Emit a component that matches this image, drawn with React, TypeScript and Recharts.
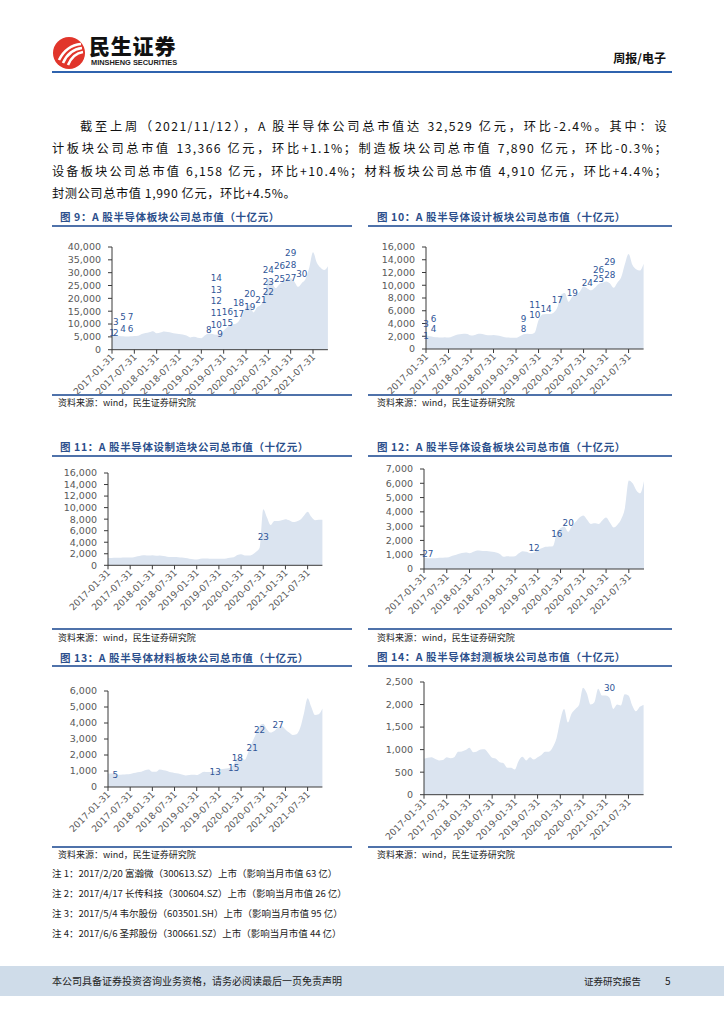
import React from 'react';
import { AreaChart, Area, XAxis, YAxis, ReferenceDot } from 'recharts';

const dates = [
  '2017-01-31','2017-02-28','2017-03-31','2017-04-30','2017-05-31','2017-06-30',
  '2017-07-31','2017-08-31','2017-09-30','2017-10-31','2017-11-30','2017-12-31',
  '2018-01-31','2018-02-28','2018-03-31','2018-04-30','2018-05-31','2018-06-30',
  '2018-07-31','2018-08-31','2018-09-30','2018-10-31','2018-11-30','2018-12-31',
  '2019-01-31','2019-02-28','2019-03-31','2019-04-30','2019-05-31','2019-06-30',
  '2019-07-31','2019-08-31','2019-09-30','2019-10-31','2019-11-30','2019-12-31',
  '2020-01-31','2020-02-29','2020-03-31','2020-04-30','2020-05-31','2020-06-30',
  '2020-07-31','2020-08-31','2020-09-30','2020-10-31','2020-11-30','2020-12-31',
  '2021-01-31','2021-02-28','2021-03-31','2021-04-30','2021-05-31','2021-06-30',
  '2021-07-31','2021-08-31','2021-09-30','2021-10-31','2021-11-12',
];

const totalCap = [
  5500, 5400, 5300, 5200, 5100, 5200, 5300, 5400, 6100, 6500, 6800, 7200,
  6400, 6700, 7100, 6900, 6600, 6300, 6100, 5900, 5500, 4800, 5000, 4700,
  4500, 5600, 6300, 6100, 5800, 6300, 7500, 8800, 9800, 10000, 11000, 13500,
  16500, 17500, 14500, 16500, 17500, 20500, 27500, 26000, 24000, 25500, 26500, 27000,
  27800, 26500, 24500, 26000, 27500, 32000, 38000, 34000, 32000, 31000, 32529,
];
const designCap = [
  2100, 2000, 1900, 1850, 1800, 1850, 1800, 1950, 2200, 2300, 2400, 2350,
  2100, 2200, 2400, 2350, 2200, 2150, 2200, 2100, 2000, 1850, 1800, 1750,
  1750, 2000, 2300, 2400, 2350, 2600, 4500, 5400, 5500, 5500, 5700, 6500,
  8500, 8800, 7400, 8200, 8500, 9000, 9800, 9500, 9200, 9600, 10200, 10400,
  10600, 10300, 9600, 10400, 11200, 13300, 14900, 13200, 12500, 12300, 13366,
];
const fabCap = [
  1250, 1270, 1300, 1300, 1350, 1350, 1350, 1400, 1550, 1700, 1750, 1700,
  1750, 1650, 1700, 1600, 1500, 1450, 1450, 1400, 1350, 1250, 1150, 1050,
  1000, 1150, 1200, 1200, 1150, 1150, 1150, 1150, 1200, 1300, 1400, 1800,
  1900, 1700, 1700, 1850, 2300, 3000, 9700, 8300, 7000, 7700, 7700, 7800,
  8000, 7800, 7500, 7600, 7900, 8600, 9300, 8400, 7800, 7900, 7890,
];
const equipCap = [
  770, 760, 750, 760, 780, 790, 800, 880, 960, 1050, 1120, 1150,
  1100, 1200, 1300, 1280, 1260, 1250, 1200, 1150, 1050, 850, 900, 880,
  900, 1100, 1250, 1200, 1100, 1150, 1350, 1450, 1550, 1580, 1600, 2500,
  2850, 2950, 2600, 3000, 3300, 3600, 3750, 3450, 3150, 3200, 3150, 3400,
  3600, 3250, 2900, 3100, 3500, 4300, 6200, 6000, 5500, 5300, 6158,
];
const materialCap = [
  830, 840, 820, 760, 780, 800, 820, 870, 920, 960, 1050, 1100,
  950, 950, 1100, 1050, 1000, 920, 880, 850, 780, 720, 750, 760,
  750, 850, 950, 930, 950, 1000, 1100, 1120, 1150, 1200, 1400, 1800,
  1800, 1700, 2200, 2800, 3300, 3800, 3950, 3600, 3400, 3500, 3700, 3800,
  3600, 3400, 3250, 3300, 3700, 4600, 5550, 5000, 4500, 4550, 4910,
];
const packCap = [
  800, 820, 830, 790, 760, 770, 830, 810, 830, 950, 960, 990,
  1040, 940, 960, 1000, 1010, 920, 820, 800, 720, 700, 600, 600,
  560, 750, 840, 760, 830, 780, 830, 880, 950, 950, 1050, 1250,
  1650, 1900, 1600, 1800, 1900, 2000, 2370, 2250, 2000, 2050, 2350, 2200,
  2200, 2150, 1900, 2000, 1980, 2230, 2200, 1980, 1850, 1950, 1990,
];

const ticks9 = [0, 5000, 10000, 15000, 20000, 25000, 30000, 35000, 40000];
const ticks10 = [0, 2000, 4000, 6000, 8000, 10000, 12000, 14000, 16000];
const ticks11 = [0, 2000, 4000, 6000, 8000, 10000, 12000, 14000, 16000];
const ticks12 = [0, 1000, 2000, 3000, 4000, 5000, 6000, 7000];
const ticks13 = [0, 1000, 2000, 3000, 4000, 5000, 6000];
const ticks14 = [0, 500, 1000, 1500, 2000, 2500];

type Lbl = { t: string; i: number; v: number };
const notes9: Lbl[] = [
  { t: '1', i: 0, v: 6400 }, { t: '2', i: 1, v: 6400 }, { t: '3', i: 1, v: 11000 },
  { t: '5', i: 3, v: 12700 }, { t: '7', i: 5, v: 12700 }, { t: '4', i: 3, v: 8200 },
  { t: '6', i: 5, v: 8200 }, { t: '8', i: 26, v: 7800 }, { t: '9', i: 29, v: 6200 },
  { t: '10', i: 28, v: 9700 }, { t: '11', i: 28, v: 14300 }, { t: '12', i: 28, v: 19100 },
  { t: '13', i: 28, v: 23400 }, { t: '14', i: 28, v: 28000 }, { t: '15', i: 31, v: 10400 },
  { t: '16', i: 31, v: 14900 }, { t: '17', i: 34, v: 14000 }, { t: '18', i: 34, v: 18400 },
  { t: '19', i: 37, v: 16600 }, { t: '20', i: 37, v: 21700 }, { t: '21', i: 40, v: 19400 },
  { t: '22', i: 42, v: 22500 }, { t: '23', i: 42, v: 26400 }, { t: '24', i: 42, v: 30900 },
  { t: '25', i: 45, v: 27700 }, { t: '26', i: 45, v: 32500 }, { t: '27', i: 48, v: 27900 },
  { t: '28', i: 48, v: 32900 }, { t: '29', i: 48, v: 37700 }, { t: '30', i: 51, v: 29600 },
];
const notes10: Lbl[] = [
  { t: '1', i: 0, v: 2100 }, { t: '3', i: 0, v: 4000 }, { t: '6', i: 2, v: 4750 },
  { t: '4', i: 2, v: 3100 }, { t: '9', i: 26, v: 4700 }, { t: '8', i: 26, v: 3200 },
  { t: '11', i: 29, v: 6850 }, { t: '10', i: 29, v: 5300 }, { t: '14', i: 32, v: 6350 },
  { t: '17', i: 35, v: 7650 }, { t: '19', i: 39, v: 8800 }, { t: '24', i: 43, v: 10450 },
  { t: '25', i: 46, v: 11050 }, { t: '26', i: 46, v: 12450 }, { t: '28', i: 49, v: 11650 },
  { t: '29', i: 49, v: 13600 },
];
const notes11: Lbl[] = [{ t: '23', i: 42, v: 4900 }];
const notes12: Lbl[] = [
  { t: '27', i: 1, v: 1030 }, { t: '12', i: 29, v: 1500 },
  { t: '16', i: 35, v: 2450 }, { t: '20', i: 38, v: 3220 },
];
const notes13: Lbl[] = [
  { t: '5', i: 2, v: 750 }, { t: '13', i: 29, v: 960 }, { t: '15', i: 34, v: 1190 },
  { t: '18', i: 35, v: 1830 }, { t: '21', i: 39, v: 2460 }, { t: '22', i: 41, v: 3580 },
  { t: '27', i: 46, v: 3880 },
];
const notes14: Lbl[] = [{ t: '30', i: 49, v: 2380 }];

const paraLines = [
  '截至上周（2021/11/12），A 股半导体公司总市值达 32,529 亿元，环比-2.4%。其中：设',
  '计板块公司总市值 13,366 亿元，环比+1.1%；制造板块公司总市值 7,890 亿元，环比-0.3%；',
  '设备板块公司总市值 6,158 亿元，环比+10.4%；材料板块公司总市值 4,910 亿元，环比+4.4%；',
  '封测公司总市值 1,990 亿元，环比+4.5%。',
];
const footnotes = [
  '注 1：2017/2/20 富瀚微（300613.SZ）上市（影响当月市值 63 亿）',
  '注 2：2017/4/17 长传科技（300604.SZ）上市（影响当月市值 26 亿）',
  '注 3：2017/5/4 韦尔股份（603501.SH）上市（影响当月市值 95 亿）',
  '注 4：2017/6/6 圣邦股份（300661.SZ）上市（影响当月市值 44 亿）',
];

const CJK = '"Noto Sans CJK SC", sans-serif';
const NUM = '"DejaVu Sans", sans-serif';
const AXIS_GRAY = '#595959';
const TITLE_BLUE = '#2c4f8c';
const RULE_BLUE = '#4f72aa';
const AREA_FILL = '#dbe4f0';
const NOTE_BLUE = '#2f5597';

const fmt = (n: number) => n.toLocaleString('en-US');

const XTick = (props: any) => {
  const { x, y, payload } = props;
  return (
    <g transform={`translate(${x + 3},${y + 2})`}>
      <text textAnchor="end" transform="rotate(-45)" fontSize={9.2} fill={AXIS_GRAY} fontFamily={NUM}>
        {payload.value}
      </text>
    </g>
  );
};

type PanelProps = {
  values: number[];
  notes: Lbl[];
  ticks: number[];
  plotLeft: number;
  plotTop: number;
  plotBottom: number;
  plotRight: number;
};

function Panel({ values, notes, ticks, plotLeft, plotTop, plotBottom, plotRight }: PanelProps) {
  const rows = dates.map((d, i) => ({ date: d, v: values[i] }));
  const left0 = plotLeft - 60;
  const top0 = plotTop - 10;
  const width = Math.round(plotRight - left0 + 20);
  const height = Math.round(plotBottom - top0 + 60);
  const yMax = ticks[ticks.length - 1];
  return (
    <div style={{ position: 'absolute', left: left0, top: top0 }}>
      <AreaChart width={width} height={height} data={rows} margin={{ top: 10, right: width - 60 - (plotRight - plotLeft), bottom: height - 10 - (plotBottom - plotTop) - 60, left: 0 }}>
        <Area dataKey="v" type="monotone" fill={AREA_FILL} fillOpacity={1} stroke="none" isAnimationActive={false} />
        <XAxis
          dataKey="date"
          interval={5}
          tick={<XTick />}
          tickSize={4}
          height={60}
          axisLine={{ stroke: '#3a3a3a' }}
          tickLine={{ stroke: '#3a3a3a' }}
        />
        <YAxis
          domain={[0, yMax]}
          ticks={ticks}
          interval={0}
          width={60}
          tickSize={4}
          tickMargin={7}
          tickFormatter={fmt}
          tick={{ fontSize: 9.5, fill: AXIS_GRAY, fontFamily: NUM }}
          axisLine={{ stroke: '#3a3a3a' }}
          tickLine={{ stroke: '#3a3a3a' }}
          allowDataOverflow
        />
        {notes.map((n, k) => (
          <ReferenceDot
            key={k}
            x={dates[n.i]}
            y={n.v}
            r={0}
            fill="none"
            stroke="none"
            label={{ value: n.t, position: 'center', fill: NOTE_BLUE, fontSize: 8.8, fontFamily: NUM }}
          />
        ))}
      </AreaChart>
    </div>
  );
}

const abs = (s: React.CSSProperties): React.CSSProperties => ({ position: 'absolute', ...s });

function Title({ text, left, cy, lineLeft, lineRight, lineY }: { text: string; left: number; cy: number; lineLeft: number; lineRight: number; lineY: number }) {
  return (
    <>
      <div style={abs({ left, top: cy - 8, height: 16, lineHeight: '16px', fontSize: 10.5, fontWeight: 700, color: TITLE_BLUE, fontFamily: CJK, letterSpacing: 0.6, whiteSpace: 'nowrap' })}>{text}</div>
      <div style={abs({ left: lineLeft, top: lineY - 1, width: lineRight - lineLeft, height: 2, background: RULE_BLUE })} />
    </>
  );
}

function Rule({ left, right, y }: { left: number; right: number; y: number }) {
  return <div style={abs({ left, top: y - 1, width: right - left, height: 2, background: RULE_BLUE })} />;
}

function Source({ left, cy }: { left: number; cy: number }) {
  return (
    <div style={abs({ left, top: cy - 7, height: 14, lineHeight: '14px', fontSize: 9, color: '#222', fontFamily: CJK, whiteSpace: 'nowrap' })}>
      资料来源：wind，民生证券研究院
    </div>
  );
}

const paraStyle = (left: number, top: number, width?: number): React.CSSProperties => ({
  position: 'absolute', left, top, width, fontSize: 12.2, lineHeight: '16px', color: '#111',
  whiteSpace: 'nowrap', letterSpacing: width ? 1.4 : 0.6,
  textAlign: width ? 'justify' : 'left', textAlignLast: width ? 'justify' : 'auto',
} as any);

export default function App() {
  return (
    <div style={{ position: 'absolute', left: 0, top: 0, width: 724, height: 1024, background: '#fff', overflow: 'hidden', fontFamily: CJK }}>
      {/* header */}
      <svg style={abs({ left: 52, top: 36 })} width={34} height={34} viewBox="0 0 34 34">
        <circle cx={17} cy={17} r={16} fill="#e1352b" />
        <path d="M7 24 C 12 14, 19 9, 29 8" stroke="#fff" strokeWidth={2.6} fill="none" />
        <path d="M11 27 C 15 18, 21 13, 30 12" stroke="#fff" strokeWidth={2.6} fill="none" />
        <path d="M16 29 C 19 22, 24 17, 31 16" stroke="#fff" strokeWidth={2.6} fill="none" />
      </svg>
      <div style={abs({ left: 89, top: 35, height: 21, fontSize: 21, lineHeight: '21px', fontWeight: 900, color: '#111', letterSpacing: 0.8, whiteSpace: 'nowrap' })}>民生证券</div>
      <div style={abs({ left: 91, top: 59, fontSize: 7.4, lineHeight: '8px', fontWeight: 700, color: '#222', fontFamily: '"Liberation Sans", sans-serif', whiteSpace: 'nowrap' })}>MINSHENG SECURITIES</div>
      <div style={abs({ left: 610, width: 56, top: 50, fontSize: 12, lineHeight: '16px', fontWeight: 700, color: '#111', textAlign: 'right', whiteSpace: 'nowrap' })}>周报/电子</div>
      <div style={abs({ left: 52, top: 71, width: 620, height: 2, background: '#2f63ae' })} />

      {/* paragraph */}
      <div style={paraStyle(80, 118, 588)}>{paraLines[0]}</div>
      <div style={paraStyle(52, 140, 616)}>{paraLines[1]}</div>
      <div style={paraStyle(52, 163, 616)}>{paraLines[2]}</div>
      <div style={paraStyle(52, 185)}>{paraLines[3]}</div>

      {/* row 1 */}
      <Title text="图 9：A 股半导体板块公司总市值（十亿元）" left={60} cy={216.7} lineLeft={52} lineRight={352} lineY={226} />
      <Title text="图 10：A 股半导体设计板块公司总市值（十亿元）" left={377} cy={216.7} lineLeft={368} lineRight={672} lineY={226} />
      <Panel values={totalCap} notes={notes9} ticks={ticks9} plotLeft={111.7} plotTop={247.3} plotBottom={350} plotRight={327.6} />
      <Panel values={designCap} notes={notes10} ticks={ticks10} plotLeft={425.7} plotTop={247.3} plotBottom={349.3} plotRight={643.3} />
      <Rule left={52} right={352} y={395} />
      <Rule left={368} right={672} y={395} />
      <Source left={58} cy={403} />
      <Source left={377} cy={403} />

      {/* row 2 */}
      <Title text="图 11：A 股半导体设制造块公司总市值（十亿元）" left={60} cy={446.7} lineLeft={52} lineRight={352} lineY={455.5} />
      <Title text="图 12：A 股半导体设备板块公司总市值（十亿元）" left={377} cy={446.7} lineLeft={368} lineRight={672} lineY={455.5} />
      <Panel values={fabCap} notes={notes11} ticks={ticks11} plotLeft={108.3} plotTop={472.7} plotBottom={565} plotRight={322.7} />
      <Panel values={equipCap} notes={notes12} ticks={ticks12} plotLeft={423.7} plotTop={468.7} plotBottom={568.7} plotRight={643.7} />
      <Rule left={52} right={352} y={629.3} />
      <Rule left={368} right={672} y={629.3} />
      <Source left={58} cy={638} />
      <Source left={377} cy={638} />

      {/* row 3 */}
      <Title text="图 13：A 股半导体材料板块公司总市值（十亿元）" left={60} cy={658.3} lineLeft={52} lineRight={352} lineY={666} />
      <Title text="图 14：A 股半导体封测板块公司总市值（十亿元）" left={377} cy={657.3} lineLeft={368} lineRight={672} lineY={665.7} />
      <Panel values={materialCap} notes={notes13} ticks={ticks13} plotLeft={108.3} plotTop={690.7} plotBottom={786.7} plotRight={322.7} />
      <Panel values={packCap} notes={notes14} ticks={ticks14} plotLeft={423.7} plotTop={682.3} plotBottom={795} plotRight={643.3} />
      <Rule left={52} right={352} y={847} />
      <Rule left={368} right={672} y={847} />
      <Source left={58} cy={855} />
      <Source left={377} cy={855} />
      {footnotes.map((f, k) => (
        <div key={k} style={abs({ left: 52, top: 873 + k * 20 - 7, height: 14, lineHeight: '14px', fontSize: 9.5, color: '#222', whiteSpace: 'nowrap' })}>{f}</div>
      ))}

      {/* footer */}
      <div style={abs({ left: 0, top: 966, width: 724, height: 30, background: '#cfdce9' })} />
      <div style={abs({ left: 52, top: 974, fontSize: 10, lineHeight: '14px', color: '#222', whiteSpace: 'nowrap' })}>本公司具备证券投资咨询业务资格，请务必阅读最后一页免责声明</div>
      <div style={abs({ left: 584, top: 974, fontSize: 9.5, lineHeight: '14px', color: '#222', whiteSpace: 'nowrap' })}>证券研究报告</div>
      <div style={abs({ left: 665, top: 974, fontSize: 10, lineHeight: '14px', color: '#222' })}>5</div>
    </div>
  );
}
